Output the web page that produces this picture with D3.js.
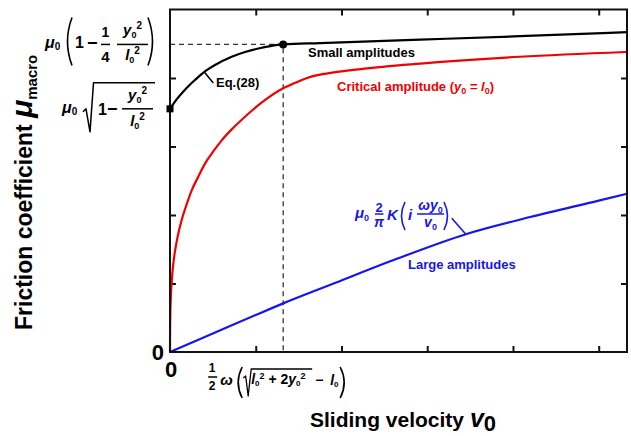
<!DOCTYPE html>
<html>
<head>
<meta charset="utf-8">
<script src="https://cdn.jsdelivr.net/npm/d3@7"></script>
<style>
body { margin: 0; background: #fff; }
svg { display: block; font-family: "Liberation Sans", Arial, sans-serif; font-weight: bold; }
</style>
</head>
<body>
<script>
// curves (x: sliding velocity, y: friction coefficient, arbitrary units)
const smallX = [0, 0.06, 0.175, 0.29, 0.39, 0.525, 0.72, 0.875, 1.03, 1.17, 1.32, 1.75, 2.92, 4.08, 5.33];
const smallY = [3.55, 3.66, 3.83, 3.97, 4.08, 4.19, 4.31, 4.38, 4.43, 4.465, 4.49, 4.51, 4.56, 4.61, 4.67];

const critX = [0, 0.001, 0.003, 0.008, 0.02, 0.035, 0.058, 0.09, 0.137, 0.19, 0.253, 0.33, 0.408, 0.5, 0.603, 0.72, 0.837, 0.97, 1.11, 1.32, 1.46, 1.6, 1.8, 1.95, 2.3, 2.92, 4.08, 5.32];
const critY = [0, 0.3, 0.5, 0.75, 1.03, 1.25, 1.47, 1.69, 1.93, 2.14, 2.36, 2.56, 2.75, 2.92, 3.09, 3.25, 3.39, 3.54, 3.68, 3.85, 3.93, 4.0, 4.06, 4.09, 4.14, 4.21, 4.31, 4.38];

const largeX = [0, 0.5, 1.0, 1.32, 1.93, 2.645, 3.45, 4.2, 5.0, 5.33];
const largeY = [0, 0.27, 0.54, 0.71, 1.01, 1.36, 1.72, 1.97, 2.21, 2.31];

// critical velocity and the plateau value marked by the dot
const vCrit = 1.32;
const muCrit = 4.49;

const xTicks = [1, 2, 3, 4, 5];
const yTicks = [1, 2, 3, 4];

const width = 631, height = 436;
const margin = {top: 9.5, right: 4, bottom: 84, left: 170};

const x = d3.scaleLinear().domain([0, 5.33]).range([margin.left, width - margin.right]);
const y = d3.scaleLinear().domain([0, 5]).range([height - margin.bottom, margin.top]);

const svg = d3.select("body").append("svg")
    .attr("width", width)
    .attr("height", height);

const red = "#f00000", blue = "#1515ee";

const line = d3.line()
    .x(d => x(d[0]))
    .y(d => y(d[1]))
    .curve(d3.curveMonotoneX);

// value of a series at xv (linear between read points)
function at(xs, ys, xv) {
  const i = Math.max(1, d3.bisectLeft(xs, xv));
  const t = (xv - xs[i - 1]) / (xs[i] - xs[i - 1]);
  return ys[i - 1] + t * (ys[i] - ys[i - 1]);
}

// little helper for bits of formula text
function txt(px, py, parts, {size = 14, anchor = "start", fill = "#000"} = {}) {
  const t = svg.append("text")
      .attr("x", px).attr("y", py)
      .attr("font-size", size)
      .attr("text-anchor", anchor)
      .attr("fill", fill);
  parts.forEach(p => {
    if (typeof p === "string") p = {s: p};
    t.append("tspan")
        .text(p.s)
        .attr("font-style", p.i ? "italic" : null)
        .attr("font-size", p.size || null)
        .attr("dy", p.dy || null);
  });
  return t;
}

function path(d, color = "#000", w = 1.6) {
  return svg.append("path")
      .attr("d", d)
      .attr("fill", "none")
      .attr("stroke", color)
      .attr("stroke-width", w)
      .attr("stroke-linejoin", "round");
}

function bar(x0, x1, py, color = "#000") {
  return svg.append("line")
      .attr("x1", x0).attr("x2", x1)
      .attr("y1", py).attr("y2", py)
      .attr("stroke", color)
      .attr("stroke-width", 1.5);
}

function paren(px, y0, y1, bulge, color = "#000") {
  return path(`M${px},${y0} Q${px + bulge},${(y0 + y1) / 2} ${px},${y1}`, color, 1.6);
}

const sub = s => ({s, size: 9, dy: 3});
const sup = s => ({s, size: 10, dy: -9});

// ticks pointing inward on all four sides
const tick = g => g.call(g => g.select(".domain").remove())
    .selectAll("line").attr("stroke", "#111").attr("stroke-width", 2);

svg.append("g").attr("transform", `translate(0,${y(0)})`)
    .call(d3.axisBottom(x).tickValues(xTicks).tickSize(-6).tickFormat("")).call(tick);
svg.append("g").attr("transform", `translate(0,${y(5)})`)
    .call(d3.axisTop(x).tickValues(xTicks).tickSize(-6).tickFormat("")).call(tick);
svg.append("g").attr("transform", `translate(${x(0)},0)`)
    .call(d3.axisLeft(y).tickValues(yTicks).tickSize(-6).tickFormat("")).call(tick);
svg.append("g").attr("transform", `translate(${x(5.33)},0)`)
    .call(d3.axisRight(y).tickValues(yTicks).tickSize(-6).tickFormat("")).call(tick);

// dashed guides to the critical point
svg.append("path")
    .attr("d", `M${x(0)},${y(muCrit)} H${x(vCrit)} V${y(0)}`)
    .attr("fill", "none")
    .attr("stroke", "#333")
    .attr("stroke-width", 1.3)
    .attr("stroke-dasharray", "5,4");

// curves
svg.append("path").datum(d3.zip(largeX, largeY))
    .attr("d", line).attr("fill", "none").attr("stroke", blue).attr("stroke-width", 2.2);
svg.append("path").datum(d3.zip(critX, critY))
    .attr("d", line).attr("fill", "none").attr("stroke", red).attr("stroke-width", 2.2);
svg.append("path").datum(d3.zip(smallX, smallY))
    .attr("d", line).attr("fill", "none").attr("stroke", "#000").attr("stroke-width", 2.2);

// frame
svg.append("rect")
    .attr("x", x(0)).attr("y", y(5))
    .attr("width", x(5.33) - x(0)).attr("height", y(0) - y(5))
    .attr("fill", "none").attr("stroke", "#111").attr("stroke-width", 2);

// markers
svg.append("rect")
    .attr("x", x(0) - 3.5).attr("y", y(smallY[0]) - 3.5)
    .attr("width", 7).attr("height", 7).attr("fill", "#000");
svg.append("circle")
    .attr("cx", x(vCrit)).attr("cy", y(muCrit)).attr("r", 4).attr("fill", "#000");

// curve labels
txt(308, 56.5, ["Small amplitudes"], {size: 13});
txt(337, 91, ["Critical amplitude (", {s: "y", i: 1}, sub("0"), {s: " = ", dy: -3}, {s: "l", i: 1}, sub("0"), {s: ")", dy: -3}], {size: 13, fill: red});
txt(408, 269, ["Large amplitudes"], {size: 13, fill: blue});

// Eq.(28) pointer
const eqX = 0.4;
path(`M${x(eqX)},${y(at(smallX, smallY, eqX))} L${x(eqX) + 9},${y(at(smallX, smallY, eqX)) + 11}`, "#000", 1.5);
txt(216, 87, ["Eq.(28)"], {size: 13});

// blue formula and pointer
const bX = 3.45;
path(`M${x(bX) - 14},${y(at(largeX, largeY, bX)) - 16} L${x(bX)},${y(at(largeX, largeY, bX))}`, blue, 1.6);
const c4 = 214;
txt(355, c4 + 4, [{s: "μ", i: 1}, sub("0")], {size: 15, fill: blue});
txt(379, c4 - 2, ["2"], {size: 13, anchor: "middle", fill: blue});
bar(375, 383.5, c4, blue);
txt(379, c4 + 13, [{s: "π", i: 1}], {size: 14, anchor: "middle", fill: blue});
txt(387, c4 + 6, [{s: "K", i: 1}], {size: 15, fill: blue});
paren(405, c4 - 12, c4 + 16, -7, blue);
txt(408, c4 + 6, [{s: "i", i: 1}], {size: 15, fill: blue});
txt(430.5, c4 - 4, [{s: "ωy", i: 1}, sub("0")], {size: 14, anchor: "middle", fill: blue});
bar(417, 444, c4, blue);
txt(430.5, c4 + 13, [{s: "v", i: 1}, sub("0")], {size: 14, anchor: "middle", fill: blue});
paren(444, c4 - 12, c4 + 16, 7, blue);

// left formula: plateau value
const c1 = y(muCrit);
txt(45, c1 + 4, [{s: "μ", i: 1}, {s: "0", size: 10, dy: 2}], {size: 16});
paren(72, c1 - 27, c1 + 21, -9);
txt(75, c1 + 4, ["1"], {size: 16});
txt(87, c1 + 5, ["−"], {size: 18});
txt(105.5, c1 - 7, ["1"], {size: 14, anchor: "middle"});
bar(101, 110, c1);
txt(105.5, c1 + 17.5, ["4"], {size: 15, anchor: "middle"});
txt(132.5, c1 - 9, [{s: "y", i: 1}, sub("0"), sup("2")], {size: 15, anchor: "middle"});
bar(117, 148, c1);
txt(132.5, c1 + 16, [{s: "l", i: 1}, sub("0"), sup("2")], {size: 15, anchor: "middle"});
paren(148, c1 - 27, c1 + 21, 9);

// left formula: value at zero velocity
const c2 = y(smallY[0]);
txt(62, c2 + 4, [{s: "μ", i: 1}, {s: "0", size: 10, dy: 2}], {size: 16});
path(`M83,${c2 + 3} L86,${c2} L90,${c2 + 23} L93.5,${c2 - 26} L155,${c2 - 26}`, "#000", 1.5);
txt(98, c2 + 6, ["1"], {size: 16});
txt(107, c2 + 6.5, ["−"], {size: 18});
txt(137.5, c2 - 9, [{s: "y", i: 1}, sub("0"), sup("2")], {size: 15, anchor: "middle"});
bar(122, 153, c2);
txt(137.5, c2 + 17, [{s: "l", i: 1}, sub("0"), sup("2")], {size: 15, anchor: "middle"});

// critical velocity formula under the axis
const ox = x(vCrit) - 76, c3 = y(0) + 25;
txt(ox + 5, c3 - 5, ["1"], {size: 12, anchor: "middle"});
bar(ox + 1, ox + 10, c3);
txt(ox + 5, c3 + 13, ["2"], {size: 12, anchor: "middle"});
txt(ox + 13, c3 + 8, [{s: "ω", i: 1}], {size: 15});
paren(ox + 35, c3 - 10, c3 + 21, -8);
path(`M${ox + 36},${c3 + 1} L${ox + 38.5},${c3 - 1} L${ox + 41},${c3 + 19} L${ox + 44},${c3 - 8} L${ox + 105},${c3 - 8}`, "#000", 1.3);
txt(ox + 44, c3 + 7, [{s: "l", i: 1}, {s: "0", size: 8, dy: 2}, {s: "2", size: 9, dy: -7}, {s: " + 2", dy: 5}, {s: "y", i: 1}, {s: "0", size: 8, dy: 2}, {s: "2", size: 9, dy: -7}], {size: 14});
txt(ox + 108, c3 + 8, ["−"], {size: 14});
txt(ox + 123, c3 + 8, [{s: "l", i: 1}, {s: "0", size: 8, dy: 2}], {size: 14});
paren(ox + 133, c3 - 10, c3 + 21, 8);

// zeros
txt(164, 360, ["0"], {size: 22, anchor: "end"});
txt(171, 377, ["0"], {size: 22, anchor: "middle"});

// axis titles
txt(310, 427, ["Sliding velocity ", {s: "v", i: 1, size: 25}, {s: "0", size: 22, dy: 4}], {size: 21});

svg.append("g").attr("transform", "translate(32,330) rotate(-90)")
  .append("text")
    .attr("font-size", 23)
    .call(t => {
      t.append("tspan").text("Friction coefficient ");
      t.append("tspan").text("μ").attr("font-style", "italic").attr("font-size", 30);
      t.append("tspan").text("macro").attr("font-size", 15).attr("dy", 5);
    });
</script>
</body>
</html>
